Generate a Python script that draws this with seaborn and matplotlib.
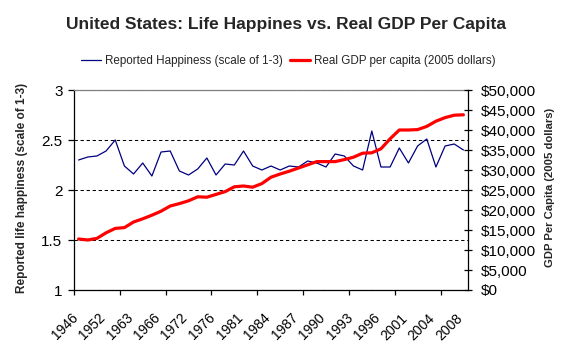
import numpy as np
import pandas as pd
import matplotlib
matplotlib.use('Agg')
import matplotlib.pyplot as plt
import matplotlib.transforms as mtransforms
from matplotlib.ticker import FuncFormatter
import seaborn as sns

# survey years (only every third one is labelled on the axis)
years = [1946, 1947, 1948, 1952, 1956, 1957, 1963, 1964, 1965, 1966,
         1970, 1971, 1972, 1973, 1974, 1976, 1977, 1978, 1981, 1982,
         1983, 1984, 1985, 1986, 1987, 1988, 1989, 1990, 1991, 1992,
         1993, 1994, 1995, 1996, 1998, 2000, 2001, 2002, 2003, 2004,
         2005, 2006, 2008]

happiness = [2.30, 2.33, 2.34, 2.39, 2.50, 2.24, 2.16, 2.27, 2.14, 2.38,
             2.39, 2.19, 2.15, 2.21, 2.32, 2.15, 2.26, 2.25, 2.39, 2.24,
             2.20, 2.24, 2.20, 2.24, 2.23, 2.29, 2.27, 2.23, 2.36, 2.34,
             2.24, 2.20, 2.59, 2.23, 2.23, 2.42, 2.27, 2.44, 2.51, 2.23,
             2.44, 2.46, 2.40]

gdp = [12750, 12500, 12900, 14300, 15400, 15600, 17000, 17800, 18700, 19700,
       21000, 21600, 22300, 23300, 23200, 23900, 24600, 25800, 26000, 25700,
       26600, 28200, 29000, 29700, 30500, 31300, 32100, 32100, 32100, 32600,
       33200, 34200, 34300, 35300, 37800, 40000, 40000, 40100, 40900, 42200,
       43100, 43700, 43800]

label_step = 3
happy_ticks = [1, 1.5, 2, 2.5, 3]
gdp_ticks = list(range(0, 50001, 5000))

title = 'United States: Life Happines vs. Real GDP Per Capita'
happy_name = 'Reported Happiness (scale of 1-3)'
gdp_name = 'Real GDP per capita (2005 dollars)'

sns.set_theme(style='white')
plt.rcParams['font.family'] = ['Liberation Sans', 'DejaVu Sans']

df = pd.DataFrame({'year': years, 'pos': np.arange(len(years)),
                   'happiness': happiness, 'gdp': gdp})

W, H = 574, 357
fig = plt.figure(figsize=(W / 100, H / 100), dpi=100)
ax = fig.add_axes([74 / W, 1 - 290 / H, (468 - 74) / W, 200 / H])
ax2 = ax.twinx()

sns.lineplot(data=df, x='pos', y='happiness', ax=ax, color='#000080',
             linewidth=0.9, label=happy_name)
sns.lineplot(data=df, x='pos', y='gdp', ax=ax2, color='#ff0000',
             linewidth=2.3, label=gdp_name)
ax.get_legend().remove()
ax2.get_legend().remove()

# x axis: categories, labels every third, tick marks every fifth
ax.set_xlim(-0.5, len(years) - 0.5)
ax.set_xticks(df['pos'][::label_step])
ax.set_xticklabels(df['year'][::label_step], rotation=45, ha='right',
                   va='top', rotation_mode='anchor')
ax.set_xticks(np.arange(-0.5, len(years) - 1, 5), minor=True)
ax.tick_params(axis='x', which='major', length=0, pad=15, labelsize=10,
               colors='black')
ax.tick_params(axis='x', which='minor', bottom=True, length=3.8, width=0.9,
               direction='out', color='black')
shift = mtransforms.ScaledTranslation(-8 / 100, 0, fig.dpi_scale_trans)
for lbl in ax.get_xticklabels():
    lbl.set_transform(lbl.get_transform() + shift)

# left axis
ax.set_ylim(1, 3)
ax.set_yticks(happy_ticks)
ax.set_yticklabels([f'{t:g}' for t in happy_ticks])
ax.tick_params(axis='y', left=True, length=4.3, width=0.9, direction='out',
               pad=4, labelsize=11, colors='black')
ax.grid(axis='y', color='black', linewidth=0.75, linestyle=(0, (3.2, 2.6)))
ax.set_xlabel('')
ax.set_ylabel('')

# right axis
ax2.set_ylim(0, 50000)
ax2.set_yticks(gdp_ticks)
ax2.yaxis.set_major_formatter(FuncFormatter(lambda v, p: f'${v:,.0f}'))
ax2.tick_params(axis='y', right=True, length=6, width=0.9, direction='inout',
                pad=6, labelsize=11, colors='black')
ax2.set_ylabel('')
ax2.grid(False)

for a in (ax, ax2):
    for s in a.spines.values():
        s.set_linewidth(0.9)
        s.set_color('black')
ax.spines['top'].set_color('#808080')
ax.spines['right'].set_visible(False)
ax2.spines['top'].set_visible(False)
ax2.spines['left'].set_visible(False)
ax2.spines['bottom'].set_visible(False)

fig.text(22 / W, 1 - 188 / H, 'Reported life happiness (scale of 1-3)',
         rotation=90, ha='center', va='center', fontsize=8.5, fontweight='bold')
fig.text(550 / W, 1 - 187 / H, 'GDP Per Capita (2005 dollars)',
         rotation=90, ha='center', va='center', fontsize=8.1, fontweight='bold')

fig.text(286 / W, 1 - 25 / H, title, ha='center', va='center',
         fontsize=12.5, fontweight='bold')

handles = ax.get_lines()[:1] + ax2.get_lines()[:1]
fig.legend(handles, [happy_name, gdp_name], loc='center', ncol=2,
           bbox_to_anchor=(288 / W, 1 - 61 / H), frameon=False, fontsize=8.4,
           handlelength=1.75, handletextpad=0.3, columnspacing=0.6)

fig.savefig('out.png', dpi=100)
